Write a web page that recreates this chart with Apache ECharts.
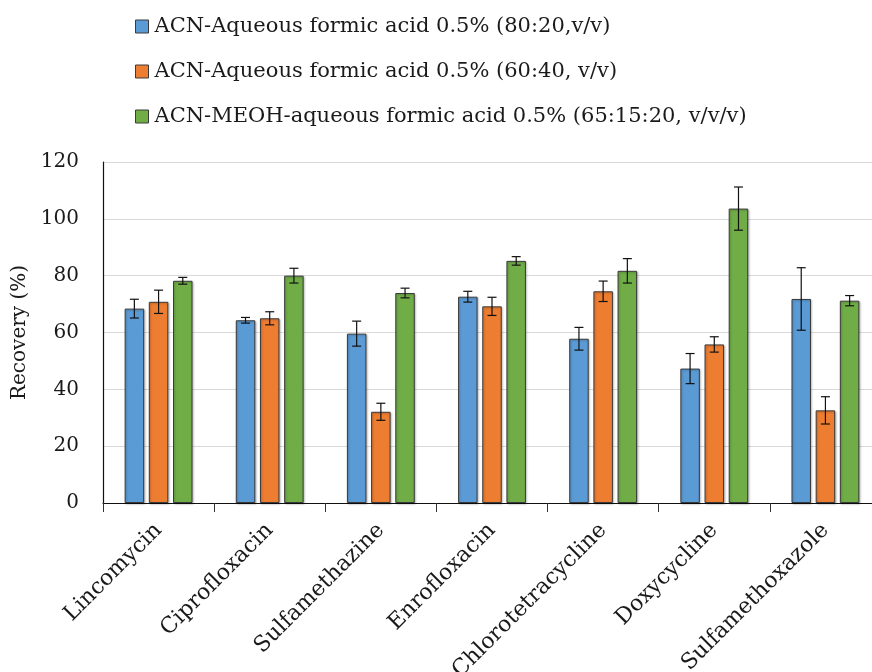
<!DOCTYPE html>
<html>
<head>
<meta charset="utf-8">
<script src="https://cdn.jsdelivr.net/npm/echarts@6/dist/echarts.min.js"></script>
<style>
html,body{margin:0;padding:0;background:#fff;}
#chart{width:872px;height:672px;}
</style>
</head>
<body>
<div id="chart"></div>
<script>
const categories = ['Lincomycin','Ciprofloxacin','Sulfamethazine','Enrofloxacin','Chlorotetracycline','Doxycycline','Sulfamethoxazole'];
const seriesNames = [
  'ACN-Aqueous formic acid 0.5% (80:20,v/v)',
  'ACN-Aqueous formic acid 0.5% (60:40, v/v)',
  'ACN-MEOH-aqueous formic acid 0.5% (65:15:20, v/v/v)'
];
const blueValues   = [68.4, 64.3, 59.6, 72.6, 57.8, 47.3, 71.8];
const blueErrors   = [3.3, 1.0, 4.4, 1.9, 4.0, 5.3, 11.0];
const orangeValues = [70.8, 65.0, 32.1, 69.2, 74.5, 55.8, 32.6];
const orangeErrors = [4.1, 2.3, 3.0, 3.2, 3.6, 2.7, 4.8];
const greenValues  = [78.2, 80.0, 73.9, 85.2, 81.7, 103.6, 71.2];
const greenErrors  = [1.2, 2.6, 1.7, 1.5, 4.3, 7.6, 1.8];
const yTicks = [0, 20, 40, 60, 80, 100, 120];

const colors = ['#5B9BD5', '#ED7D31', '#70AD47'];
const FONT = 'DejaVu Serif';
const BAR_W = 19.5;
const BAR_STEP = 24.2;

const valueSets = [blueValues, orangeValues, greenValues];
const errorSets = [blueErrors, orangeErrors, greenErrors];

function errSeries(si) {
  const data = valueSets[si].map((v, i) => [i, v, errorSets[si][i]]);
  return {
    type: 'custom',
    name: seriesNames[si] + ' err',
    z: 10,
    silent: true,
    data: data,
    encode: {x: 0, y: 1},
    renderItem: function (params, api) {
      const idx = api.value(0), v = api.value(1), e = api.value(2);
      const off = (si - 1) * BAR_STEP;
      const top = api.coord([idx, v + e]);
      const bot = api.coord([idx, v - e]);
      const x = top[0] + off;
      const cap = 4.5;
      const style = {stroke: '#111', lineWidth: 1.2};
      return {
        type: 'group',
        children: [
          {type: 'line', shape: {x1: x, y1: top[1], x2: x, y2: bot[1]}, style: style},
          {type: 'line', shape: {x1: x - cap, y1: top[1], x2: x + cap, y2: top[1]}, style: style},
          {type: 'line', shape: {x1: x - cap, y1: bot[1], x2: x + cap, y2: bot[1]}, style: style}
        ]
      };
    }
  };
}

const barSeries = [0, 1, 2].map(si => ({
  type: 'bar',
  name: seriesNames[si],
  data: valueSets[si],
  barWidth: BAR_W,
  barGap: '24%',
  itemStyle: {
    color: colors[si],
    borderColor: '#3a3a3a',
    borderWidth: 1,
    shadowColor: 'rgba(0,0,0,0.25)',
    shadowBlur: 2,
    shadowOffsetX: 1,
    shadowOffsetY: 1
  }
}));

const chart = echarts.init(document.getElementById('chart'), null, {renderer: 'canvas'});
chart.setOption({
  animation: false,
  backgroundColor: '#fff',
  textStyle: {fontFamily: FONT, color: '#1a1a1a'},
  legend: {
    orient: 'vertical',
    left: 135,
    top: 15,
    padding: 0,
    itemWidth: 13,
    itemHeight: 13,
    itemGap: 22,
    icon: 'rect',
    data: seriesNames,
    itemStyle: {borderColor: '#3a3a3a', borderWidth: 1, shadowBlur: 0, shadowOffsetX: 0, shadowOffsetY: 0},
    textStyle: {fontFamily: FONT, fontSize: 21, color: '#1a1a1a', lineHeight: 23, padding: [0, 0, 0, 1]}
  },
  grid: {left: 103, top: 162, width: 778, height: 341, containLabel: false, outerBoundsMode: 'none'},
  xAxis: {
    type: 'category',
    data: categories,
    axisLine: {lineStyle: {color: '#111', width: 1.2}},
    axisTick: {show: true, length: 9, lineStyle: {color: '#333'}},
    axisLabel: {rotate: 45, margin: 24, fontFamily: FONT, fontSize: 22, color: '#1a1a1a', interval: 0}
  },
  yAxis: {
    type: 'value',
    min: yTicks[0],
    max: yTicks[yTicks.length - 1],
    interval: 20,
    name: 'Recovery (%)',
    nameLocation: 'middle',
    nameGap: 66,
    nameTextStyle: {fontFamily: FONT, fontSize: 20, color: '#1a1a1a'},
    axisLine: {show: true, lineStyle: {color: '#111', width: 1.2}},
    axisTick: {show: false},
    splitLine: {lineStyle: {color: '#d9d9d9', width: 1.2}},
    axisLabel: {margin: 24, fontFamily: FONT, fontSize: 20, color: '#1a1a1a'}
  },
  series: barSeries.concat([errSeries(0), errSeries(1), errSeries(2)])
});
</script>
</body>
</html>
